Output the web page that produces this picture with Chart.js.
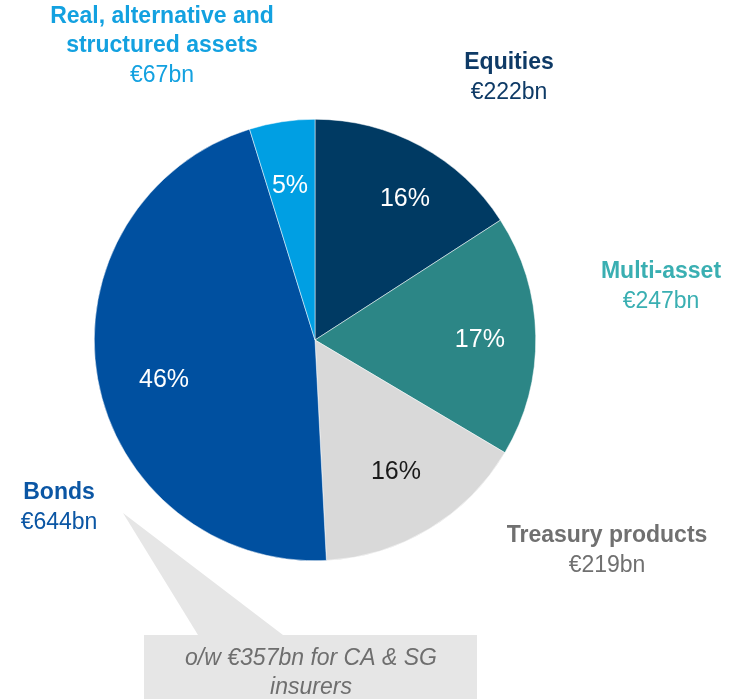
<!DOCTYPE html>
<html>
<head>
<meta charset="utf-8">
<script src="https://cdn.jsdelivr.net/npm/chart.js@4.4.1/dist/chart.umd.min.js"></script>
<style>
html,body{margin:0;padding:0;background:#fff;}
#wrap{position:relative;width:739px;height:699px;}
canvas{display:block;}
</style>
</head>
<body>
<div id="wrap"><canvas id="c" width="739" height="699"></canvas></div>
<script>
// ---- data ----
const categories = ["Equities", "Multi-asset", "Treasury products", "Bonds", "Real, alternative and structured assets"];
const amounts = [222, 247, 219, 644, 67];           // € bn
const amountLabels = ["€222bn", "€247bn", "€219bn", "€644bn", "€67bn"];
const percentLabels = ["16%", "17%", "16%", "46%", "5%"];
const calloutText = ["o/w €357bn for CA & SG", "insurers"];

// ---- styles ----
const sliceColors = ["#003A63", "#2C8686", "#D9D9D9", "#0050A0", "#009FE3"];
const labelColors = ["#0E3A66", "#3AAFB2", "#707070", "#0B56A4", "#13A1E0"];
const pctColors = ["#FFFFFF", "#FFFFFF", "#1A1A1A", "#FFFFFF", "#FFFFFF"];
const pctRadius = [0.765, 0.747, 0.693, 0.705, 0.715];
const pctAngleShift = [3.6, 0.4, -0.8, -4, -0.5]; // degrees
// outer label layout: centre x, first line centre y, name lines
const outerLayout = [
  {x: 509, y: 63, lines: ["Equities"]},
  {x: 661, y: 272, lines: ["Multi-asset"]},
  {x: 607, y: 536, lines: ["Treasury products"]},
  {x: 59, y: 493, lines: ["Bonds"]},
  {x: 162, y: 17, lines: ["Real, alternative and", "structured assets"]}
];
const FONT = "'Liberation Sans', Arial, sans-serif";

const labelPlugin = {
  id: 'labels',
  afterDatasetsDraw(chart) {
    const ctx = chart.ctx;
    const meta = chart.getDatasetMeta(0);
    ctx.save();
    ctx.textAlign = 'center';
    ctx.textBaseline = 'middle';
    meta.data.forEach((arc, i) => {
      const p = arc.getProps(['x','y','startAngle','endAngle','outerRadius'], true);
      const mid = (p.startAngle + p.endAngle) / 2 + pctAngleShift[i] * Math.PI / 180;
      const r = p.outerRadius * pctRadius[i];
      ctx.font = "25px " + FONT;
      ctx.fillStyle = pctColors[i];
      ctx.fillText(percentLabels[i], p.x + Math.cos(mid) * r, p.y + Math.sin(mid) * r + 2);
    });
    outerLayout.forEach((L, i) => {
      ctx.fillStyle = labelColors[i];
      let y = L.y;
      ctx.font = "bold 23px " + FONT;
      L.lines.forEach(line => { ctx.fillText(line, L.x, y); y += 29; });
      ctx.font = "23px " + FONT;
      ctx.fillText(amountLabels[i], L.x, y + 1);
    });
    ctx.restore();
  }
};

const calloutPlugin = {
  id: 'callout',
  afterDraw(chart) {
    const ctx = chart.ctx;
    ctx.save();
    ctx.fillStyle = "#E6E6E6";
    ctx.beginPath();
    ctx.moveTo(123, 513);
    ctx.lineTo(283, 635);
    ctx.lineTo(198, 635);
    ctx.closePath();
    ctx.fill();
    ctx.fillRect(144, 635, 333, 70);
    ctx.fillStyle = "#6E6E6E";
    ctx.font = "italic 23px " + FONT;
    ctx.textAlign = 'center';
    ctx.textBaseline = 'middle';
    ctx.fillText(calloutText[0], 311, 659);
    ctx.fillText(calloutText[1], 311, 688);
    ctx.restore();
  }
};

new Chart(document.getElementById('c'), {
  type: 'pie',
  data: {
    labels: categories,
    datasets: [{
      data: amounts,
      backgroundColor: sliceColors,
      borderWidth: 0.5,
      borderColor: '#FFFFFF'
    }]
  },
  options: {
    responsive: false,
    animation: false,
    rotation: 0,
    layout: { padding: { left: 94, right: 203, top: 119, bottom: 138 } },
    plugins: { legend: { display: false }, tooltip: { enabled: false } }
  },
  plugins: [calloutPlugin, labelPlugin]
});
</script>
</body>
</html>
